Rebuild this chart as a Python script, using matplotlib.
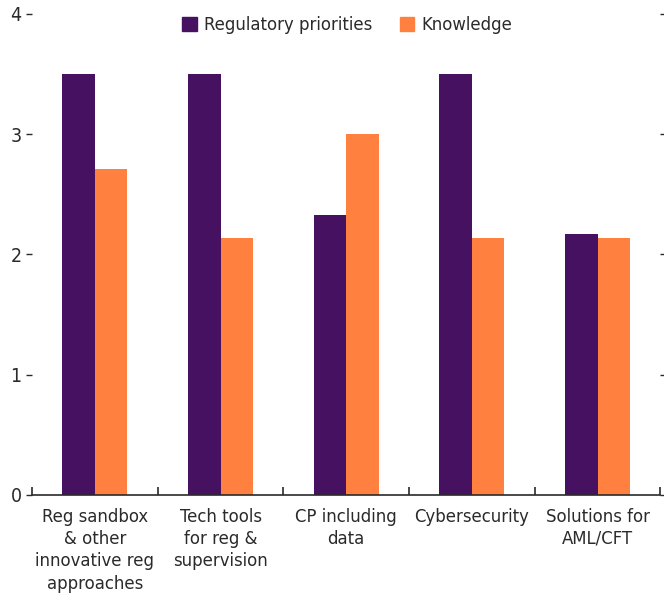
import matplotlib
matplotlib.use('agg')
import matplotlib.pyplot as plt
from matplotlib import font_manager
from matplotlib.patches import Patch
import numpy as np

# chart data
categories = ['Reg sandbox\n& other\ninnovative reg\napproaches',
              'Tech tools\nfor reg &\nsupervision',
              'CP including\ndata',
              'Cybersecurity',
              'Solutions for\nAML/CFT']
regulatory = [3.5, 3.5, 2.33, 3.5, 2.17]
knowledge = [2.71, 2.14, 3.0, 2.14, 2.14]
series_names = ['Regulatory priorities', 'Knowledge']
y_ticks = [0, 1, 2, 3, 4]

purple = '#451160'
orange = '#ff803f'
text_color = '#2a2a2a'

# prefer a narrow sans face if one is available
installed = {f.name for f in font_manager.fontManager.ttflist}
if 'Liberation Sans Narrow' in installed:
    plt.rcParams['font.family'] = ['Liberation Sans Narrow', 'DejaVu Sans']
else:
    plt.rcParams['font.family'] = ['DejaVu Sans']
    plt.rcParams['font.stretch'] = 'condensed'
fs = 13.2

fig = plt.figure(figsize=(6.64, 6.0), dpi=100)
ax = fig.add_axes([0.0482, 0.175, 0.9465, 0.8017])

x = np.arange(len(categories))
w = 0.259
ax.bar(x - w / 2, regulatory, width=w, color=purple)
ax.bar(x + w / 2, knowledge, width=w, color=orange)

ax.set_xlim(-0.5, len(categories) - 0.5)
ax.set_ylim(0, 4)

# spines: only the baseline is drawn
for side in ['left', 'right', 'top']:
    ax.spines[side].set_visible(False)
ax.spines['bottom'].set_color(text_color)
ax.spines['bottom'].set_linewidth(1.2)

ax.set_yticks(y_ticks)
ax.tick_params(axis='y', direction='out', length=4.5, width=1, color=text_color,
               labelsize=fs + 0.8, labelcolor=text_color, pad=3, right=True)

ax.set_xticks(x)
ax.set_xticklabels(categories, fontsize=fs, color=text_color, linespacing=1.32)
ax.tick_params(axis='x', which='major', length=0, pad=9)
ax.set_xticks(np.arange(-0.5, len(categories)), minor=True)
ax.tick_params(axis='x', which='minor', direction='in', length=6, width=1.2, color=text_color)

handles = [Patch(color=purple), Patch(color=orange)]
fig.legend(handles, series_names, loc='center', bbox_to_anchor=(0.523, 0.958), ncol=2,
           frameon=False, fontsize=fs, labelcolor=text_color, handlelength=0.8,
           handleheight=0.8, handletextpad=0.4, columnspacing=1.5)

plt.savefig('out.png', dpi=100)
plt.close()
